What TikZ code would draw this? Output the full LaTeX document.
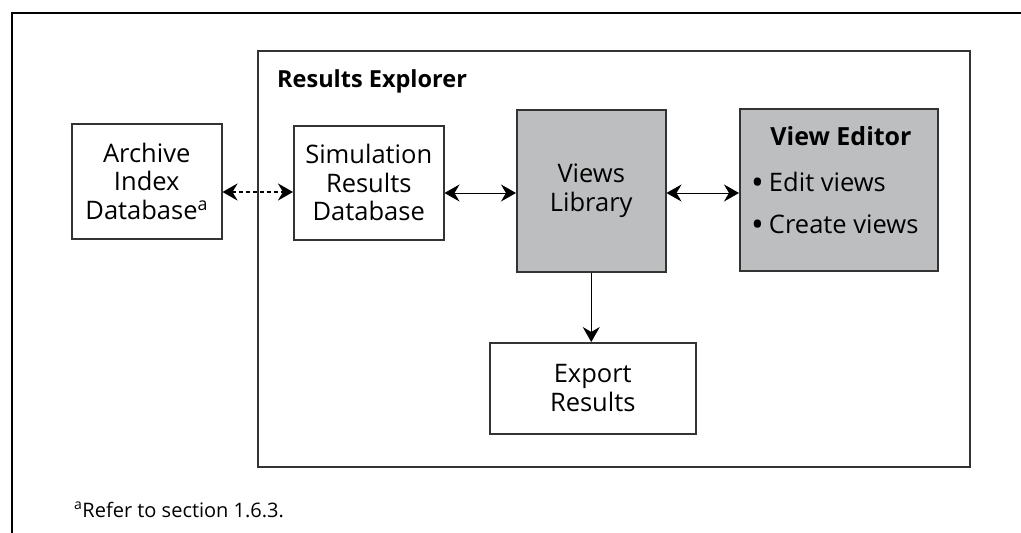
\documentclass[tikz,border=0pt]{standalone}
\usepackage{fontspec}
\setmainfont{Open Sans}
\usetikzlibrary{arrows.meta}
\definecolor{boxgray}{HTML}{BDBEC0}
\definecolor{edge}{HTML}{333333}
\newcommand{\bigbul}{{\fontsize{34}{24}\selectfont\raisebox{-3.5pt}{\textbullet}}}
\tikzset{
  box/.style={draw=edge, line width=1.5pt, inner sep=0pt},
  graybox/.style={box, fill=boxgray},
  txt/.style={font=\fontsize{25.5}{28.5}\selectfont, align=center, inner sep=0pt},
  conn/.style={line width=1pt, {Stealth[length=15pt,width=17pt,inset=5pt]}-{Stealth[length=15pt,width=17pt,inset=5pt]}},
  oneway/.style={line width=1pt, -{Stealth[length=15pt,width=17pt,inset=5pt]}},
}
\begin{document}
\begin{tikzpicture}[x=1pt,y=-1pt]
\useasboundingbox (0,0) rectangle (1021,533);
% outer frame (open on right and bottom)
\draw[line width=1.6pt] (12,540) -- (12,13) -- (1030,13);
% Results Explorer
\node[box, minimum width=712pt, minimum height=416pt, anchor=north west] (re) at (257,50) {};
\node[font=\fontsize{23.5}{24}\selectfont\bfseries, anchor=base west, inner sep=0pt] (retitle) at (277,87) {Results Explorer};
% Archive
\node[box, minimum width=150pt, minimum height=115pt, anchor=north west] (arch) at (71,123) {};
\node[txt] (archt) at (arch.center) {Archive\\Index\\Database\textsuperscript{a}};
% Simulation
\node[box, minimum width=150pt, minimum height=114pt, anchor=north west] (sim) at (293,125) {};
\node[txt] (simt) at (sim.center) {Simulation\\Results\\Database};
% Views Library
\node[graybox, minimum width=149pt, minimum height=162pt, anchor=north west] (vl) at (516,109) {};
\node[txt] (vlt) at (vl.center) {Views\\Library};
% View Editor
\node[graybox, minimum width=198pt, minimum height=162pt, anchor=north west] (ve) at (739,108) {};
\node[font=\fontsize{25}{24}\selectfont\bfseries, inner sep=0pt, anchor=base] (vet) at (841,145) {View Editor};
\node[font=\fontsize{25.5}{24}\selectfont, inner sep=0pt, anchor=base west] (ve1) at (751,191) {\bigbul\hspace{5pt}Edit views};
\node[font=\fontsize{25.5}{24}\selectfont, inner sep=0pt, anchor=base west] (ve2) at (751,233) {\bigbul\hspace{5pt}Create views};
% Export
\node[box, minimum width=206pt, minimum height=91pt, anchor=north west] (ex) at (489,342) {};
\node[txt] (ext) at (ex.center) {Export\\Results};
% connectors
\draw[conn, line width=1.8pt, dash pattern=on 4pt off 3pt] (arch.east |- 0,192) -- (sim.west |- 0,192);
\draw[conn] (sim.east |- 0,193) -- (vl.west |- 0,193);
\draw[conn] (vl.east |- 0,193) -- (ve.west |- 0,193);
\draw[oneway] (vl.south) -- (vl.south |- ex.north);
% footnote
\node[font=\fontsize{20}{22}\selectfont, inner sep=0pt, anchor=base west] (fn) at (74,517) {\textsuperscript{a}Refer to section 1.6.3.};
\end{tikzpicture}
\end{document}
